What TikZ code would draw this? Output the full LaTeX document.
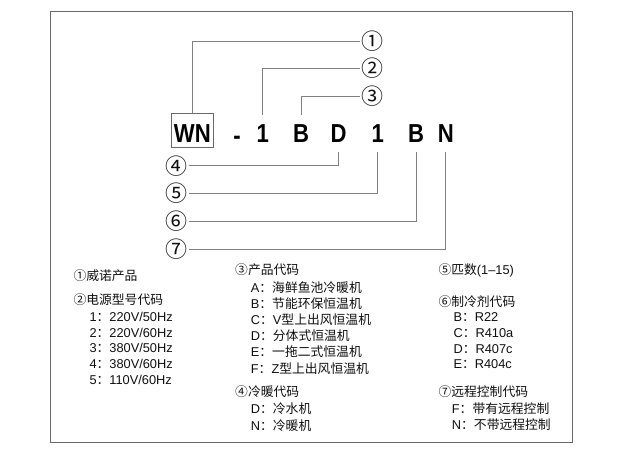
\documentclass[tikz,border=0pt]{standalone}
\usepackage{fontspec}
\setmainfont{Liberation Sans}
\newfontfamily\cjk{Noto Sans CJK SC}
\newfontfamily\codefont{Liberation Sans}[FakeStretch = 0.85]
\definecolor{leadgray}{RGB}{128, 128, 128}
\definecolor{framegray}{RGB}{105, 105, 105}
\definecolor{textgray}{RGB}{15, 15, 15}

\begin{document}
\begin{tikzpicture}[x = 1pt, y = -1pt,
	code/.style = {font = \codefont\fontsize{26}{26}\selectfont\bfseries, anchor = base, inner xsep = 0pt, inner ysep = 9pt, text height = 18.6pt, text depth = 0pt},
	num/.style = {font = \cjk\fontsize{22}{22}\selectfont, inner sep = 1.5pt, text = textgray},
	lead/.style = {draw = leadgray, line width = 0.8pt},
	item/.style = {anchor = west, inner sep = 0pt, font = \fontsize{12.8}{14}\selectfont, text = textgray}]
			\useasboundingbox (0,0) rectangle (620,469);
			\draw[framegray, line width = 1pt] (50,11) rectangle (572,442);
			% model code
			\node (wn) at (192.3,142.7) [code, draw = framegray, line width = 0.8pt, inner xsep = 2.5pt, inner ysep = 4.6pt, text height = 24.8pt] {WN};
			\node (cdash) at (237,144) [code] {-};
			\node (cv) at (262.7,142.7) [code] {1};
			\node (cp) at (301.2,142.7) [code] {B};
			\node (cm) at (338.5,142.7) [code] {D};
			\node (cq) at (377.7,142.7) [code] {1};
			\node (cr) at (416,142.7) [code] {B};
			\node (cc) at (445.8,142.7) [code] {N};
			% circled numbers
			\node (n1) at (372.7,41) [num] {①};
			\node (n2) at (372.7,68) [num] {②};
			\node (n3) at (372.7,96) [num] {③};
			\node (n4) at (176,165.7) [num] {④};
			\node (n5) at (176,193.3) [num] {⑤};
			\node (n6) at (176,221) [num] {⑥};
			\node (n7) at (176,249.3) [num] {⑦};
			\draw[lead] (wn.north) |- (n1);
			\draw[lead] (cv.north) |- (n2);
			\draw[lead] (cp.north) |- (n3);
			\draw[lead] (cm.south) |- (n4);
			\draw[lead] (cq.south) |- (n5);
			\draw[lead] (cr.south) |- (n6);
			\draw[lead] (cc.south) |- (n7);
			% legend, left column
			\node (l1) at (73.3,275.7) [item] {\cjk ①威诺产品};
			\node (l2) at (73.3,300) [item] {\cjk ②电源型号代码};
			\node (l2a) at (89.3,316.7) [item] {1{\cjk ：}220V/50Hz};
			\node (l2b) at (89.3,332.7) [item] {2{\cjk ：}220V/60Hz};
			\node (l2c) at (89.3,348.3) [item] {3{\cjk ：}380V/50Hz};
			\node (l2d) at (89.3,364.3) [item] {4{\cjk ：}380V/60Hz};
			\node (l2e) at (89.3,380) [item] {5{\cjk ：}110V/60Hz};
			% legend, middle column
			\node (l3) at (235,270) [item] {\cjk ③产品代码};
			\node (l3a) at (250.7,287.3) [item] {A{\cjk ：海鲜鱼池冷暖机}};
			\node (l3b) at (250.7,303.3) [item] {B{\cjk ：节能环保恒温机}};
			\node (l3c) at (250.7,319.3) [item] {C{\cjk ：}V{\cjk 型上出风恒温机}};
			\node (l3d) at (250.7,335.7) [item] {D{\cjk ：分体式恒温机}};
			\node (l3e) at (250.7,351.7) [item] {E{\cjk ：一拖二式恒温机}};
			\node (l3f) at (250.7,368.3) [item] {F{\cjk ：}Z{\cjk 型上出风恒温机}};
			\node (l4) at (235,391.7) [item] {\cjk ④冷暖代码};
			\node (l4d) at (250.7,409) [item] {D{\cjk ：冷水机}};
			\node (l4n) at (250.7,425.7) [item] {N{\cjk ：冷暖机}};
			% legend, right column
			\node (l5) at (438.3,270) [item] {{\cjk ⑤匹数}(1–15)};
			\node (l6) at (438.3,301.7) [item] {\cjk ⑥制冷剂代码};
			\node (l6b) at (453.3,316.7) [item] {B{\cjk ：}R22};
			\node (l6c) at (453.3,333.3) [item] {C{\cjk ：}R410a};
			\node (l6d) at (453.3,349) [item] {D{\cjk ：}R407c};
			\node (l6e) at (453.3,364.3) [item] {E{\cjk ：}R404c};
			\node (l7) at (438.3,391.7) [item] {\cjk ⑦远程控制代码};
			\node (l7f) at (451.7,409) [item] {F{\cjk ：带有远程控制}};
			\node (l7n) at (451.7,425) [item] {N{\cjk ：不带远程控制}};
			\end{tikzpicture}
\end{document}
